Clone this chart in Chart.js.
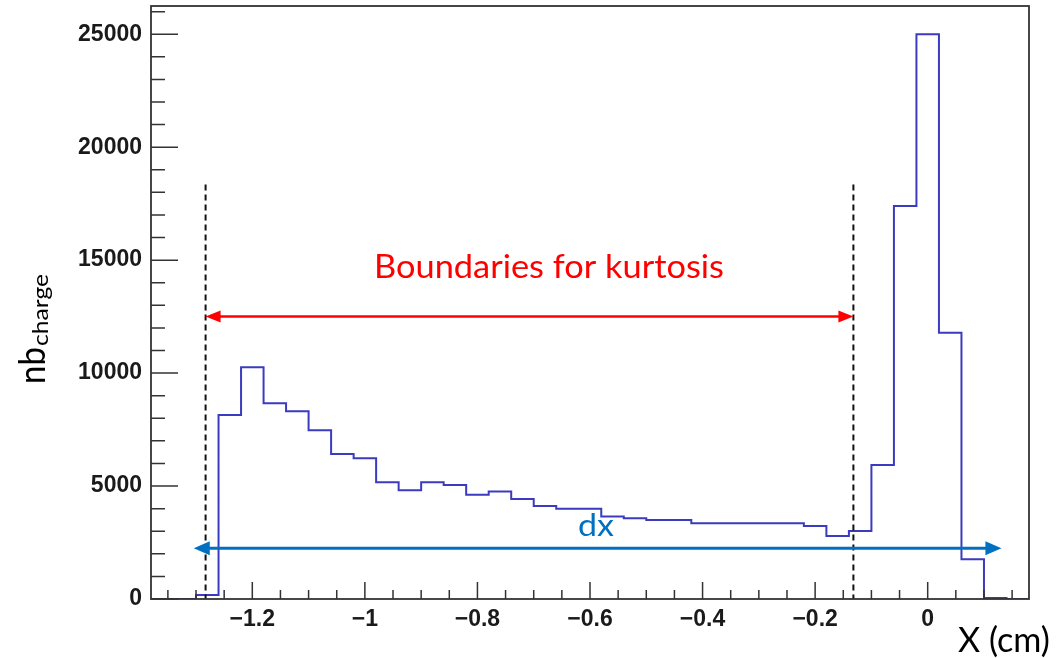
<!DOCTYPE html>
<html>
<head>
<meta charset="utf-8">
<script src="https://cdn.jsdelivr.net/npm/chart.js@4.4.1/dist/chart.umd.min.js"></script>
<style>
  html, body { margin: 0; padding: 0; background: #fff; }
  #wrap { width: 1059px; height: 658px; }
</style>
</head>
<body>
<div id="wrap"><canvas id="chart"></canvas></div>
<script>
// histogram bins (low edges, width 0.04 cm) and their contents
const binLow = [-1.38, -1.34, -1.30, -1.26, -1.22, -1.18, -1.14, -1.10, -1.06, -1.02,
                -0.98, -0.94, -0.90, -0.86, -0.82, -0.78, -0.74, -0.70, -0.66, -0.62,
                -0.58, -0.54, -0.50, -0.46, -0.42, -0.38, -0.34, -0.30, -0.26, -0.22,
                -0.18, -0.14, -0.10, -0.06, -0.02, 0.02, 0.06, 0.10, 0.14];
const lastEdge = 0.18;
const counts = [0, 0, 180, 8150, 10260, 8660, 8310, 7470, 6420, 6230,
                5170, 4810, 5170, 5050, 4610, 4760, 4430, 4120, 4000, 4000,
                3650, 3570, 3500, 3500, 3350, 3350, 3350, 3350, 3350, 3230,
                2790, 3010, 5930, 17400, 25000, 11790, 1760, 40, 0];

const xTickValues = [-1.2, -1, -0.8, -0.6, -0.4, -0.2, 0];
const yTickValues = [0, 5000, 10000, 15000, 20000, 25000];

// annotations, in data units
const kurtosisBounds = [-1.283, -0.132];
const boundsTop = 18350;
const kurtosisArrowY = 12500;
const dxRange = [-1.304, 0.131];
const dxArrowY = 2250;

const points = binLow.map((x, i) => ({ x: x, y: counts[i] }));
points.push({ x: lastEdge, y: 0 });

function fitText(ctx, text, x, y, size, width, color) {
  ctx.save();
  ctx.font = size + 'px Lato';
  const w = ctx.measureText(text).width;
  ctx.translate(x, y);
  ctx.scale(width / w, 1);
  ctx.fillStyle = color;
  ctx.textAlign = 'left';
  ctx.textBaseline = 'alphabetic';
  ctx.fillText(text, 0, 0);
  ctx.restore();
}

function doubleArrow(ctx, x1, x2, y, color, lw, head, half) {
  ctx.save();
  ctx.strokeStyle = color;
  ctx.fillStyle = color;
  ctx.lineWidth = lw;
  ctx.beginPath();
  ctx.moveTo(x1 + head - 2, y);
  ctx.lineTo(x2 - head + 2, y);
  ctx.stroke();
  ctx.beginPath();
  ctx.moveTo(x1, y);
  ctx.lineTo(x1 + head, y - half);
  ctx.lineTo(x1 + head, y + half);
  ctx.closePath();
  ctx.moveTo(x2, y);
  ctx.lineTo(x2 - head, y - half);
  ctx.lineTo(x2 - head, y + half);
  ctx.closePath();
  ctx.fill();
  ctx.restore();
}

const decorations = {
  id: 'decorations',
  afterDatasetsDraw(chart) {
    const { ctx, scales: { x, y } } = chart;

    // kurtosis boundaries
    ctx.save();
    ctx.strokeStyle = '#111';
    ctx.lineWidth = 2;
    ctx.setLineDash([6, 4]);
    kurtosisBounds.forEach(b => {
      ctx.beginPath();
      ctx.moveTo(x.getPixelForValue(b), y.getPixelForValue(boundsTop));
      ctx.lineTo(x.getPixelForValue(b), y.getPixelForValue(0));
      ctx.stroke();
    });
    ctx.restore();

    doubleArrow(ctx, x.getPixelForValue(kurtosisBounds[0]), x.getPixelForValue(kurtosisBounds[1]),
      y.getPixelForValue(kurtosisArrowY), '#ff0000', 2.5, 15, 6);
    doubleArrow(ctx, x.getPixelForValue(dxRange[0]), x.getPixelForValue(dxRange[1]),
      y.getPixelForValue(dxArrowY), '#0070c0', 3, 16, 7);

    fitText(ctx, 'Boundaries for kurtosis', 374, 278, 32, 350, '#ff0000');
    fitText(ctx, 'dx', 578, 536, 30, 36, '#0070c0');
  },
  afterDraw(chart) {
    const { ctx, chartArea: a, scales: { x, y } } = chart;
    ctx.save();
    ctx.strokeStyle = '#333';
    ctx.lineWidth = 1.8;
    ctx.strokeRect(a.left, a.top, a.right - a.left, a.bottom - a.top);

    ctx.lineWidth = 1.5;
    ctx.beginPath();
    for (let k = -27; k <= 3; k++) {
      const px = x.getPixelForValue(k * 0.05);
      ctx.moveTo(px, a.bottom);
      ctx.lineTo(px, a.bottom - (k % 4 === 0 ? 17 : 9));
    }
    for (let v = 0; v <= 26000; v += 1000) {
      const py = y.getPixelForValue(v);
      ctx.moveTo(a.left, py);
      ctx.lineTo(a.left + (v % 5000 === 0 ? 27 : 14), py);
    }
    ctx.stroke();
    ctx.restore();

    // axis titles
    fitText(ctx, 'X (cm)', 958, 652, 34, 92, '#000');
    ctx.save();
    ctx.translate(45, 384);
    ctx.rotate(-Math.PI / 2);
    fitText(ctx, 'nb', 0, 0, 36, 37, '#000');
    fitText(ctx, 'charge', 38, 3, 22, 72, '#000');
    ctx.restore();
  }
};

new Chart(document.getElementById('chart'), {
  type: 'line',
  data: {
    datasets: [{
      data: points,
      stepped: true,
      fill: false,
      borderColor: '#3b3bbf',
      borderWidth: 2,
      pointRadius: 0
    }]
  },
  options: {
    responsive: true,
    maintainAspectRatio: false,
    animation: false,
    layout: { padding: { top: 6, right: 30, left: 0, bottom: 0 } },
    plugins: { legend: { display: false }, tooltip: { enabled: false } },
    scales: {
      x: {
        type: 'linear',
        min: -1.38,
        max: 0.18,
        grid: { display: false, drawTicks: false },
        border: { display: false },
        afterBuildTicks: scale => { scale.ticks = xTickValues.map(v => ({ value: v })); },
        afterFit: scale => {
          scale.height = 59;
          scale.paddingLeft = 0;
          scale.paddingRight = 0;
        },
        ticks: {
          padding: 7,
          color: '#1a1a1a',
          font: { family: 'Liberation Sans', size: 23, weight: 'bold' },
          callback: v => (v < 0 ? '\u2212' : '') + Math.abs(v)
        }
      },
      y: {
        type: 'linear',
        min: 0,
        max: 26250,
        grid: { display: false, drawTicks: false },
        border: { display: false },
        afterBuildTicks: scale => { scale.ticks = yTickValues.map(v => ({ value: v })); },
        afterFit: scale => {
          scale.width = 151;
          scale.paddingTop = 0;
          scale.paddingBottom = 0;
        },
        ticks: {
          padding: 9,
          color: '#1a1a1a',
          font: { family: 'Liberation Sans', size: 23, weight: 'bold' },
          callback: v => String(v)
        }
      }
    }
  },
  plugins: [decorations]
});
</script>
</body>
</html>
